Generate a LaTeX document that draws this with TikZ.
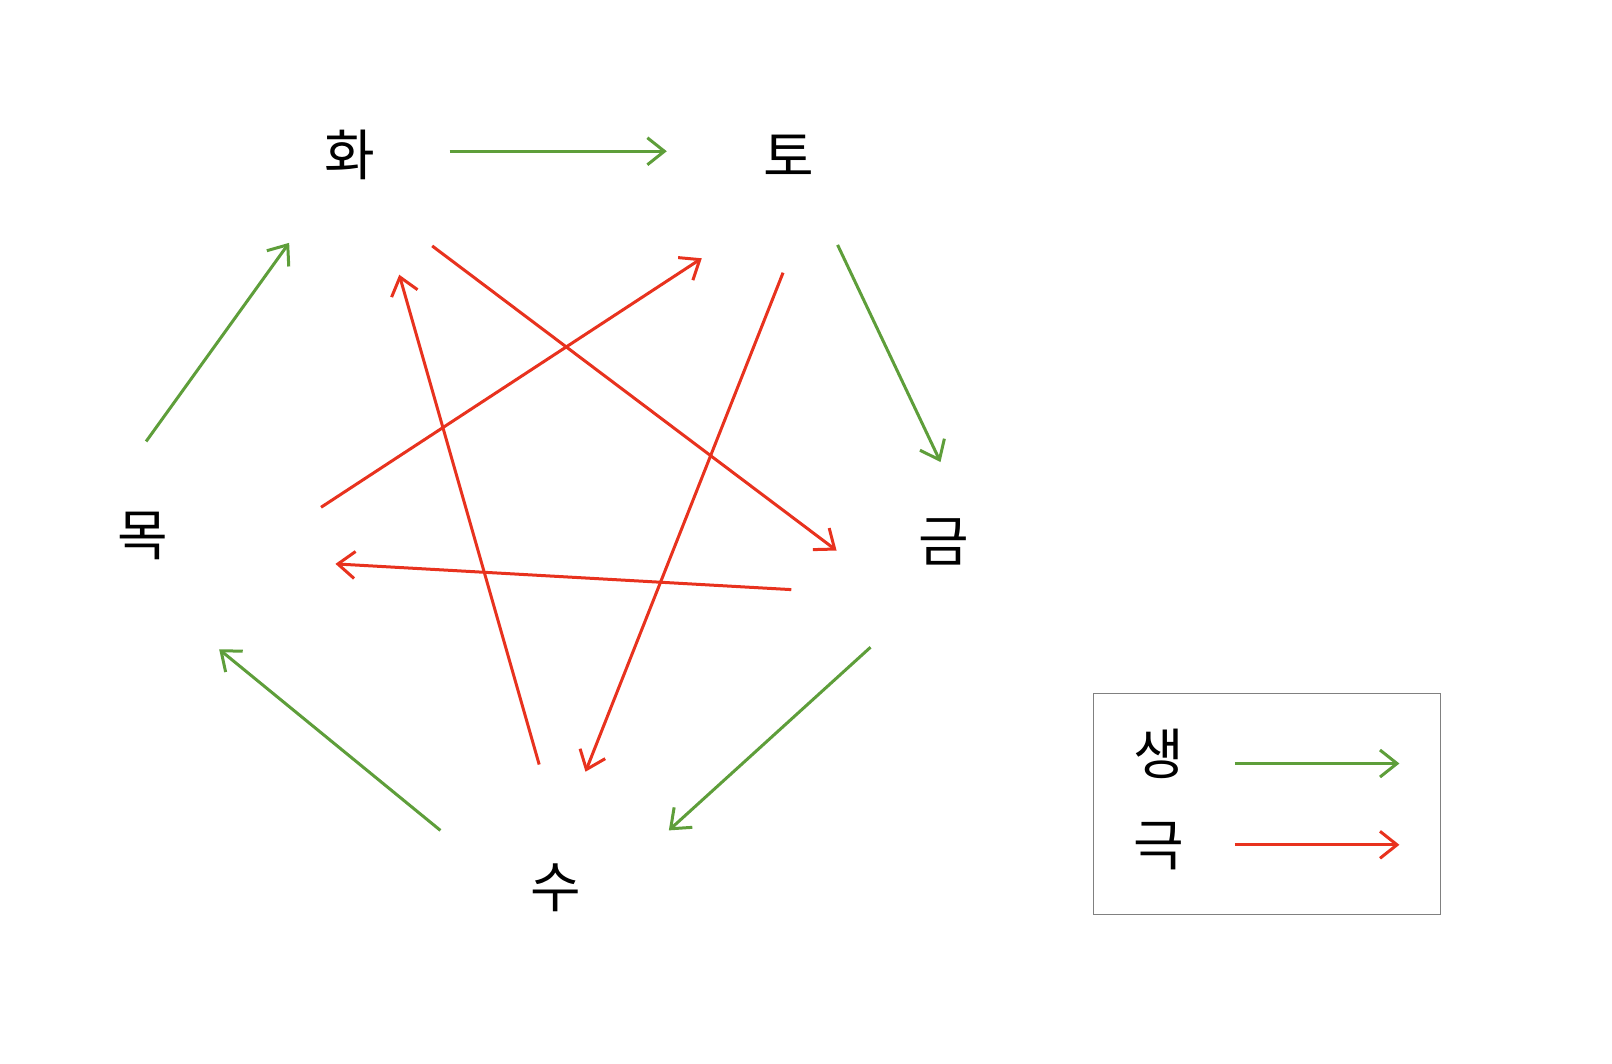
\documentclass[tikz,border=0pt]{standalone}
\usepackage{fontspec}
\newfontfamily\kr{Noto Sans CJK KR}
\usetikzlibrary{arrows.meta}
\definecolor{sheng}{RGB}{94,158,58}
\definecolor{ke}{RGB}{232,50,30}
\definecolor{boxgray}{RGB}{128,128,128}
\tikzset{
  elem/.style={font=\kr\fontsize{55}{60}\selectfont, inner sep=0pt},
  tipa/.style={-{Straight Barb[length=17pt,width=27pt,line width=3pt]}},
  genarrow/.style={tipa, draw=sheng, line width=3pt},
  ctrlarrow/.style={tipa, draw=ke, line width=3pt},
}
\begin{document}
\begin{tikzpicture}[x=1.029pt,y=-1.029pt]
\useasboundingbox (0,0) rectangle (1566.6,1034.0);
% elements
\node[elem] (hwa) at (340,151) {화};
\node[elem] (to)  at (767,151) {토};
\node[elem] (geum) at (917,527) {금};
\node[elem] (mok) at (139,521) {목};
\node[elem] (su)  at (540,863) {수};
% endpoints
\coordinate (g1s) at (437,147); \coordinate (g1e) at (648,147);
\coordinate (g2s) at (814,238); \coordinate (g2e) at (914,449);
\coordinate (g3s) at (846,629); \coordinate (g3e) at (650,807);
\coordinate (g4s) at (428,807); \coordinate (g4e) at (213,631);
\coordinate (g5s) at (142,429); \coordinate (g5e) at (281,236);
\coordinate (r1s) at (420,239); \coordinate (r1e) at (813,535);
\coordinate (r2s) at (761,265); \coordinate (r2e) at (569,750);
\coordinate (r3s) at (769,573); \coordinate (r3e) at (326,548);
\coordinate (r4s) at (524,743); \coordinate (r4e) at (388,267);
\coordinate (r5s) at (312,493); \coordinate (r5e) at (682,251);
% generating cycle
\draw[genarrow] (g1s) -- (g1e);
\draw[genarrow] (g2s) -- (g2e);
\draw[genarrow] (g3s) -- (g3e);
\draw[genarrow] (g4s) -- (g4e);
\draw[genarrow] (g5s) -- (g5e);
% controlling cycle
\draw[ctrlarrow] (r1s) -- (r1e);
\draw[ctrlarrow] (r2s) -- (r2e);
\draw[ctrlarrow] (r3s) -- (r3e);
\draw[ctrlarrow] (r4s) -- (r4e);
\draw[ctrlarrow] (r5s) -- (r5e);
% legend
\node[draw=boxgray, line width=1.2pt, minimum width=347pt, minimum height=221pt, anchor=north west, inner sep=0pt] (legend) at (1062,673) {};
\node[elem] (lsheng) at (1126,733) {생};
\node[elem] (lke) at (1126,822) {극};
\coordinate (lgs) at (1200,742); \coordinate (lge) at (1360,742);
\coordinate (lrs) at (1200,821); \coordinate (lre) at (1360,821);
\draw[genarrow] (lgs) -- (lge);
\draw[ctrlarrow] (lrs) -- (lre);
\end{tikzpicture}
\end{document}
